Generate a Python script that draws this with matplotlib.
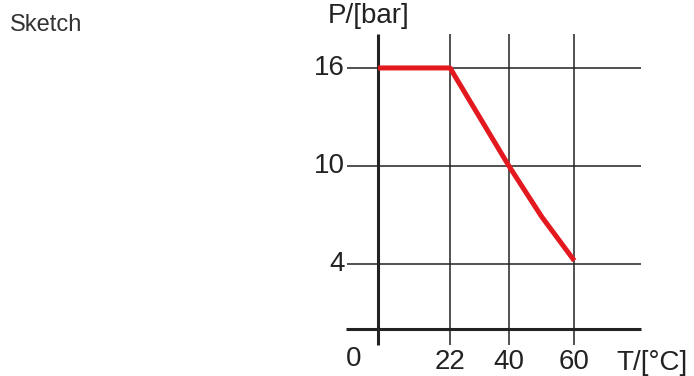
import matplotlib
matplotlib.use("Agg")
import matplotlib.pyplot as plt

# data
temp = [0, 22, 40, 50, 60]
pressure = [16, 16, 10, 6.9, 4.2]
x_ticks = [22, 40, 60]
y_ticks = [4, 10, 16]

plt.rcParams['font.family'] = ['Liberation Sans', 'DejaVu Sans']

fig = plt.figure(figsize=(6.94, 3.76), dpi=100)
ax = fig.add_axes([0, 0, 1, 1])
ax.set_xlim(-115.6, 96.6)
ax.set_ylim(-2.86, 20.16)
ax.axis('off')

grid_c = '#222222'
# grid lines
ax.hlines(y_ticks, -9.5, 80.5, color=grid_c, lw=1.1)
ax.vlines(x_ticks, -0.95, 18.1, color=grid_c, lw=1.1)
# axes
ax.hlines(0, -9.8, 80.5, color=grid_c, lw=2.2)
ax.vlines(0, -0.95, 18.1, color=grid_c, lw=2.2)

ax.plot(temp, pressure, color='#e3191f', lw=3.6, solid_capstyle='butt',
        solid_joinstyle='round')

# tick labels
for t in x_ticks:
    ax.text(t, -1.2, str(t), ha='center', va='top', fontsize=20, color='#222222')
ax.text(-7.6, -1.05, '0', ha='center', va='top', fontsize=20, color='#222222')
for p in y_ticks:
    ax.text(-10.3, p, str(p), ha='right', va='center', fontsize=20, color='#222222')

ax.text(-15.5, 18.4, 'P/[bar]', ha='left', va='bottom', fontsize=20, color='#222222')
ax.text(73, -1.25, 'T/[°C]', ha='left', va='top', fontsize=20, color='#222222')

fig.text(0.0144, 0.934, 'Sketch', ha='left', va='center', fontsize=17, color='#333333')

fig.savefig('out.png', dpi=100)
